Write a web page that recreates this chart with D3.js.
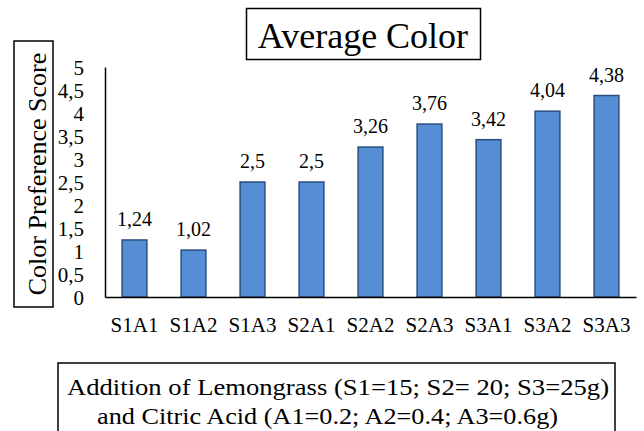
<!DOCTYPE html>
<html><head><meta charset="utf-8">
<script src="https://cdn.jsdelivr.net/npm/d3@7"></script>
<style>html,body{margin:0;padding:0;background:#fff;}svg{display:block;}
svg text{font-family:"Liberation Serif","Tinos","DejaVu Serif",serif;}</style>
</head><body>
<svg id="c" width="644" height="431"></svg>
<script>
const categories = ["S1A1","S1A2","S1A3","S2A1","S2A2","S2A3","S3A1","S3A2","S3A3"];
const values = [1.24, 1.02, 2.5, 2.5, 3.26, 3.76, 3.42, 4.04, 4.38];
const valueLabels = ["1,24","1,02","2,5","2,5","3,26","3,76","3,42","4,04","4,38"];
const yTicks = [0, 0.5, 1, 1.5, 2, 2.5, 3, 3.5, 4, 4.5, 5];
const yTickLabels = ["0","0,5","1","1,5","2","2,5","3","3,5","4","4,5","5"];
const title = "Average Color";
const yTitle = "Color Preference Score";
const xTitleLines = ["Addition of Lemongrass (S1=15; S2= 20; S3=25g)", "and Citric Acid (A1=0.2; A2=0.4; A3=0.6g)"];

const svg = d3.select("#c");
const x0 = 105, x1 = 636, yTop = 67, yBot = 297;
const x = d3.scaleBand().domain(categories).range([x0, x1]).paddingInner(0.58).paddingOuter(0.29);
const y = d3.scaleLinear().domain([0, 5]).range([yBot, yTop]);

svg.append("g").selectAll("rect").data(values).join("rect")
  .attr("x", (d,i) => x(categories[i]))
  .attr("y", d => y(d))
  .attr("width", x.bandwidth())
  .attr("height", d => y(0) - y(d))
  .attr("fill", "#558ed5")
  .attr("stroke", "#294f80")
  .attr("stroke-width", 1.5);

svg.append("g").selectAll("text").data(values).join("text")
  .attr("x", (d,i) => x(categories[i]) + x.bandwidth()/2)
  .attr("y", d => y(d) - 14)
  .attr("text-anchor", "middle")
  .attr("font-size", 20)
  .text((d,i) => valueLabels[i]);

const yAxis = d3.axisLeft(y).tickValues(yTicks).tickSize(0).tickPadding(0)
  .tickFormat((d,i) => yTickLabels[i]);
const gy = svg.append("g").attr("transform", `translate(${x0},0)`).call(yAxis);
gy.attr("font-family", null);
gy.select(".domain").attr("stroke", "#000").attr("stroke-width", 1.5);
gy.selectAll("text").attr("font-size", 21).attr("fill", "#000")
  .attr("x", -21).attr("dy", "0.34em");

const xAxis = d3.axisBottom(x).tickSize(0).tickPadding(0);
const gx = svg.append("g").attr("transform", `translate(0,${yBot})`).call(xAxis);
gx.attr("font-family", null);
gx.select(".domain").attr("stroke", "#000").attr("stroke-width", 1.5);
gx.selectAll("text").attr("font-size", 21).attr("fill", "#000")
  .attr("y", 35).attr("dy", 0);

svg.append("rect").attr("x", 246.5).attr("y", 8.5).attr("width", 234).attr("height", 51)
  .attr("fill", "none").attr("stroke", "#000").attr("stroke-width", 1.5);
svg.append("text").attr("x", 363).attr("y", 48).attr("text-anchor", "middle")
  .attr("font-size", 36).text(title);

svg.append("rect").attr("x", 14).attr("y", 41).attr("width", 39).attr("height", 266)
  .attr("fill", "none").attr("stroke", "#000").attr("stroke-width", 1.5);
svg.append("text").attr("transform", "translate(46,174) rotate(-90)").attr("text-anchor", "middle")
  .attr("font-size", 26).text(yTitle);

svg.append("rect").attr("x", 58).attr("y", 363).attr("width", 557).attr("height", 90)
  .attr("fill", "none").attr("stroke", "#000").attr("stroke-width", 1.5);
const lineX = [67, 97], lineW = [542, 461];
svg.append("g").selectAll("text").data(xTitleLines).join("text")
  .attr("x", (d,i) => lineX[i]).attr("y", (d,i) => 395 + i*29)
  .attr("textLength", (d,i) => lineW[i]).attr("lengthAdjust", "spacingAndGlyphs")
  .attr("font-size", 23).text(d => d);
</script>
</body></html>
